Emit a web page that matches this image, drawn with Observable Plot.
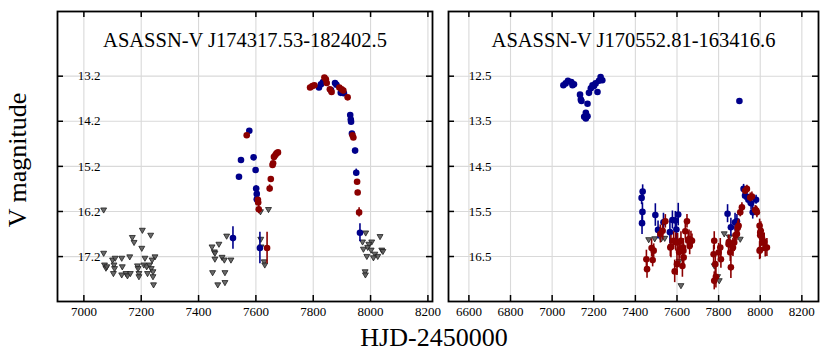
<!DOCTYPE html>
<html><head><meta charset="utf-8">
<script src="https://cdn.jsdelivr.net/npm/d3@7"></script>
<script src="https://cdn.jsdelivr.net/npm/@observablehq/plot@0.6"></script>
<style>
body{margin:0;background:#fff;}
#wrap{position:relative;width:830px;height:358px;font-family:"Liberation Serif",serif;color:#000;}
#left,#right{position:absolute;top:0;}
#left{left:0}
#right{left:440px}
#ylab{position:absolute;left:18px;top:160px;transform:translate(-50%,-50%) rotate(-90deg);font-size:26px;white-space:nowrap;}
#xlab{position:absolute;left:434px;top:338px;transform:translate(-50%,-50%);font-size:26px;white-space:nowrap;}
svg{overflow:visible}
</style></head>
<body>
<div id="wrap">
  <div id="left"></div>
  <div id="right"></div>
  <div id="ylab">V magnitude</div>
  <div id="xlab">HJD-2450000</div>
</div>
<script>
// ---------- data ----------
const titleLeft = "ASASSN-V J174317.53-182402.5";
const titleRight = "ASASSN-V J170552.81-163416.6";
const xTicksLeft = [7000, 7200, 7400, 7600, 7800, 8000, 8200];
const xTicksRight = [6600, 6800, 7000, 7200, 7400, 7600, 7800, 8000, 8200];
const yTicksLeft = [13.2, 14.2, 15.2, 16.2, 17.2];
const yTicksRight = [12.5, 13.5, 14.5, 15.5, 16.5];

// [HJD-2450000, V mag, error]
const leftBlue = [
  [7520,16.79,0.25],[7541,15.43,0.05],[7548,15.06,0.05],[7577,14.41,0.03],[7592,15.00,0.04],
  [7599,15.28,0.05],[7601,15.69,0.06],[7603,15.81,0.05],[7603,15.93,0.05],[7614,17.01,0.35],
  [7820,13.45,0.03],[7827,13.38,0.03],[7834,13.33,0.03],[7862,13.51,0.03],[7876,13.35,0.03],
  [7881,13.39,0.03],[7896,13.57,0.03],[7907,13.58,0.03],[7929,14.06,0.04],[7931,14.16,0.04],
  [7932,14.21,0.04],[7935,14.47,0.04],[7946,14.85,0.05],[7950,15.34,0.08],[7963,16.67,0.2]
];
const leftRed = [
  [7568,14.51,0.04],[7607,15.94,0.05],[7608,16.00,0.05],[7610,16.15,0.1],[7639,17.01,0.35],
  [7648,15.69,0.08],[7652,15.48,0.05],[7658,15.17,0.04],[7660,15.13,0.04],[7663,14.99,0.03],
  [7668,14.95,0.03],[7672,14.91,0.03],[7677,14.89,0.03],
  [7789,13.45,0.03],[7797,13.42,0.03],[7804,13.40,0.03],[7839,13.23,0.03],[7844,13.27,0.03],
  [7847,13.35,0.03],[7858,13.49,0.03],[7864,13.55,0.03],[7891,13.45,0.03],[7899,13.49,0.03],
  [7905,13.52,0.03],[7920,13.67,0.03],[7937,14.51,0.04],[7940,14.56,0.04],[7953,15.54,0.05],
  [7955,15.78,0.05],[7960,16.22,0.1]
];
const leftLimits = [
  [7069,16.16],[7069,17.12],[7072,17.38],[7077,17.45],[7080,17.42],[7100,17.27],[7105,17.38],
  [7109,17.23],[7107,17.46],[7103,17.57],[7132,17.23],[7134,17.42],[7132,17.60],[7147,17.57],
  [7152,17.62],[7160,17.20],[7162,17.57],[7169,16.77],[7175,16.88],[7187,17.40],[7189,17.46],
  [7192,17.57],[7192,17.64],[7204,16.61],[7202,17.01],[7213,17.23],[7209,17.38],[7219,17.42],
  [7222,17.57],[7233,16.72],[7229,17.38],[7235,17.46],[7241,17.53],[7241,17.64],[7243,17.82],
  [7248,17.20],[7238,17.27],
  [7447,16.98],[7471,16.92],[7455,17.09],[7457,17.12],[7457,17.25],[7482,17.21],[7490,17.27],
  [7513,17.27],[7449,17.55],[7492,17.55],[7467,17.82],[7492,17.77],[7498,16.74],
  [7616,16.20],[7644,16.15],[7617,16.81],[7618,16.98],[7629,17.31],[7631,17.38],
  [7983,16.67],[7972,16.87],[8004,16.87],[8033,16.75],[7994,16.92],[7975,17.03],[7990,16.99],
  [8002,17.05],[8015,17.14],[8025,17.19],[8010,17.22],[8039,17.05],[8043,17.08],[7987,17.19],
  [7981,17.53],[7982,17.60]
];

const rightBlue = [
  [7054,12.70,0.02],[7065,12.66,0.02],[7076,12.60,0.02],[7092,12.63,0.02],[7105,12.68,0.02],
  [7098,12.70,0.02],[7134,12.91,0.02],[7138,13.02,0.02],[7141,13.05,0.02],[7170,13.11,0.02],
  [7162,13.31,0.02],[7162,13.44,0.02],[7170,13.39,0.02],[7154,13.40,0.02],[7177,12.87,0.02],
  [7186,12.77,0.02],[7194,12.70,0.02],[7209,12.66,0.02],[7218,12.85,0.02],[7225,12.60,0.02],
  [7233,12.52,0.02],[7241,12.59,0.02],[7201,12.72,0.02],[7900,13.05,0.02],
  [7435,15.06,0.15],[7430,15.20,0.15],[7434,15.51,0.2],[7432,15.76,0.25],[7496,15.58,0.25],
  [7509,15.91,0.2],[7535,15.74,0.2],[7566,15.96,0.25],[7578,15.69,0.2],[7592,15.70,0.2],
  [7597,15.90,0.25],[7606,15.57,0.25],
  [7843,15.55,0.2],[7859,15.85,0.2],[7879,15.74,0.2],[7888,15.72,0.15],[7920,15.00,0.1],
  [7927,15.15,0.1],[7943,15.24,0.12],[7956,15.32,0.15],[7964,15.52,0.15],[7980,15.24,0.1]
];
const rightRed = [
  [7453,16.56,0.2],[7456,16.78,0.2],[7483,16.58,0.15],[7488,16.37,0.15],[7478,16.31,0.2],
  [7520,16.00,0.2],[7531,15.93,0.2],[7544,15.72,0.15],[7568,16.30,0.2],[7571,16.28,0.25],
  [7589,16.83,0.25],[7600,16.67,0.25],[7603,16.19,0.2],[7594,16.18,0.2],[7610,16.40,0.25],
  [7613,16.34,0.2],[7619,16.15,0.2],[7626,16.71,0.25],[7632,16.52,0.2],[7631,16.37,0.2],
  [7640,15.94,0.2],[7648,15.72,0.15],[7654,16.15,0.2],[7658,16.11,0.2],[7661,16.26,0.2],
  [7667,16.14,0.2],[7672,16.15,0.15],[7629,16.30,0.2],[7584,16.15,0.2],
  [7779,16.15,0.2],[7776,16.45,0.2],[7784,16.67,0.25],[7787,16.95,0.25],[7779,17.04,0.2],
  [7800,16.41,0.2],[7808,16.30,0.2],[7811,16.56,0.2],[7848,16.23,0.2],[7849,16.18,0.15],
  [7856,16.41,0.2],[7859,16.74,0.25],[7869,16.30,0.2],[7875,16.19,0.2],[7881,16.03,0.2],
  [7888,16.00,0.15],[7892,15.86,0.15],[7896,15.82,0.15],[7904,15.52,0.1],[7912,15.41,0.1],
  [7928,15.04,0.08],[7936,15.00,0.08],[7952,15.19,0.1],[7960,15.17,0.1],[7976,15.47,0.1],
  [7981,15.48,0.1],[7984,15.52,0.12],[7997,15.82,0.15],[8000,15.97,0.2],[8003,15.93,0.2],
  [8008,16.08,0.2],[8000,16.03,0.2],[8016,16.19,0.2],[8019,16.18,0.2],[7997,16.37,0.2],
  [8024,16.31,0.2],[8032,16.30,0.2],[8000,16.35,0.2]
];
const rightLimits = [
  [7464,16.12],[7493,16.10],[7525,16.10],[7541,16.09],[7610,16.60],[7619,17.14],
  [7779,16.70],[7795,16.94],[7803,17.03],[7827,15.99],[7851,16.06],[7904,16.11]
];

// ---------- drawing ----------
const H = 358, MT = 11, MB = 57;
const BLUE = "#00008b", RED = "#8b0000";

function panel({blue, red, lim, xDomain, yDomain, xTicks, yTicks, title, width, marginLeft, marginRight}) {
  const fw = width - marginLeft - marginRight;
  const fh = H - MT - MB;
  return Plot.plot({
    width, height: H, marginLeft, marginRight, marginTop: MT, marginBottom: MB,
    x: {domain: xDomain},
    y: {domain: yDomain, reverse: true},
    style: {fontFamily: "Liberation Serif, serif", fontSize: "13px", color: "#000", background: "transparent", overflow: "visible"},
    marks: [
      Plot.gridX(xTicks, {stroke: "#d9d9d9", strokeOpacity: 1, strokeWidth: 1.1}),
      Plot.gridY(yTicks, {stroke: "#d9d9d9", strokeOpacity: 1, strokeWidth: 1.1}),
      Plot.tickX(xTicks, {x: d => d, insetTop: fh - 6, stroke: "#000", strokeWidth: 1.5}),
      Plot.tickX(xTicks, {x: d => d, insetBottom: fh - 6, stroke: "#000", strokeWidth: 1.5}),
      Plot.tickY(yTicks, {y: d => d, insetRight: fw - 6, stroke: "#000", strokeWidth: 1.5}),
      Plot.tickY(yTicks, {y: d => d, insetLeft: fw - 6, stroke: "#000", strokeWidth: 1.5}),
      Plot.axisX(xTicks, {tickSize: 0, tickPadding: 5, fontSize: 13, tickFormat: d => String(d)}),
      Plot.axisY(yTicks, {tickSize: 0, tickPadding: 0, dx: 43, fontSize: 13, tickFormat: d => d.toFixed(1)}),
      Plot.dot(lim, {x: d => d[0], y: d => d[1], symbol: "triangle", rotate: 180, r: 2.2, fill: "#5a5a5a", fillOpacity: 0.9, stroke: "#1e1e1e", strokeWidth: 0.8}),
      Plot.ruleX(blue, {x: d => d[0], y1: d => d[1] - d[2], y2: d => d[1] + d[2], stroke: BLUE, strokeWidth: 1.6}),
      Plot.dot(blue, {x: d => d[0], y: d => d[1], r: 3.3, fill: BLUE}),
      Plot.ruleX(red, {x: d => d[0], y1: d => d[1] - d[2], y2: d => d[1] + d[2], stroke: RED, strokeWidth: 1.6}),
      Plot.dot(red, {x: d => d[0], y: d => d[1], r: 3.3, fill: RED}),
      Plot.frame({stroke: "#000", strokeWidth: 1.8}),
      Plot.text([title], {frameAnchor: "top", dy: 29, lineAnchor: "middle", fontSize: 20.5, fill: "#000"})
    ]
  });
}

document.getElementById("left").append(panel({
  blue: leftBlue, red: leftRed, lim: leftLimits,
  xDomain: [6908, 8216], yDomain: [11.766, 18.196],
  xTicks: xTicksLeft, yTicks: yTicksLeft, title: titleLeft,
  width: 440, marginLeft: 57, marginRight: 8
}));
document.getElementById("right").append(panel({
  blue: rightBlue, red: rightRed, lim: rightLimits,
  xDomain: [6502, 8280], yDomain: [11.065, 17.498],
  xTicks: xTicksRight, yTicks: yTicksRight, title: titleRight,
  width: 390, marginLeft: 8, marginRight: 12
}));
</script>
</body></html>
